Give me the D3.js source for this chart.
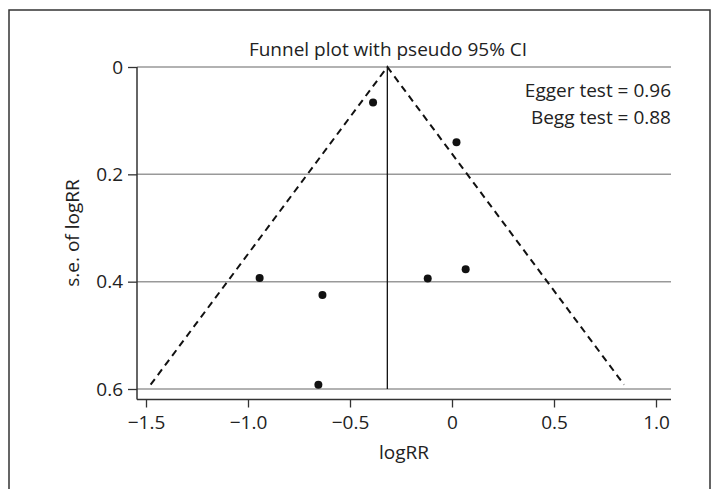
<!DOCTYPE html>
<html>
<head>
<meta charset="utf-8">
<script src="https://cdn.jsdelivr.net/npm/d3@7"></script>
<style>
  body { margin: 0; background: #fff; }
  text { font-family: "Open Sans", sans-serif; fill: #222; }
</style>
</head>
<body>
<script>
// study estimates (logRR) and their standard errors
var logRR = [-0.387, 0.022, -0.943, -0.635, -0.655, -0.119, 0.067];
var seLogRR = [0.066, 0.140, 0.393, 0.425, 0.592, 0.394, 0.377];
// pooled estimate
var pooled = -0.317;
// tick labels
var xTicks = [-1.5, -1.0, -0.5, 0, 0.5, 1.0];
var yTicks = [0, 0.2, 0.4, 0.6];
var statLines = ["Egger test = 0.96", "Begg test = 0.88"];

var W = 718, H = 489;

var svg = d3.select("body").append("svg")
  .attr("width", W)
  .attr("height", H);

// outer frame
svg.append("path")
   .attr("d", "M9,489V10H710V489")
   .attr("fill", "none")
   .attr("stroke", "#333")
   .attr("stroke-width", 1.5);

var x = d3.scaleLinear().domain([-1.5, 1.0]).range([146, 656]);
var y = d3.scaleLinear().domain([0, 0.6]).range([67, 389]);

var left = 137, right = 671, axisY = 399.5;

// horizontal grid lines
svg.selectAll("line.grid")
   .data(yTicks)
   .enter().append("line")
     .attr("class", "grid")
     .attr("x1", left)
     .attr("x2", right)
     .attr("y1", d => y(d))
     .attr("y2", d => y(d))
     .attr("stroke", "#999")
     .attr("stroke-width", 1.5);

// axis lines
svg.append("line")
   .attr("x1", left).attr("x2", left)
   .attr("y1", y(0)).attr("y2", axisY)
   .attr("stroke", "#333").attr("stroke-width", 1.5);
svg.append("line")
   .attr("x1", left).attr("x2", right)
   .attr("y1", axisY).attr("y2", axisY)
   .attr("stroke", "#333").attr("stroke-width", 1.5);

var fmt = d => d === 0 ? "0" : (d < 0 ? "\u2212" : "") + Math.abs(d).toFixed(1);

var xAxis = d3.axisBottom(x).tickValues(xTicks).tickSize(8).tickPadding(8).tickFormat(fmt);
var gx = svg.append("g")
   .attr("transform", "translate(0," + axisY + ")")
   .call(xAxis);
gx.select(".domain").remove();

var yAxis = d3.axisLeft(y).tickValues(yTicks).tickSize(9).tickPadding(5).tickFormat(fmt);
var gy = svg.append("g")
   .attr("transform", "translate(" + left + ",0)")
   .call(yAxis);
gy.select(".domain").remove();

svg.selectAll(".tick line").attr("stroke", "#333").attr("stroke-width", 1.3);
svg.selectAll(".tick text")
   .attr("font-family", "Open Sans, sans-serif")
   .attr("font-size", 19)
   .attr("fill", "#222");

// pooled estimate line
svg.append("line")
   .attr("x1", x(pooled)).attr("x2", x(pooled))
   .attr("y1", y(0)).attr("y2", y(0.6))
   .attr("stroke", "#111").attr("stroke-width", 1.3);

// pseudo 95% CI limits
var maxSe = d3.max(seLogRR);
var ci = [[pooled - 1.96 * maxSe, maxSe], [pooled, 0], [pooled + 1.96 * maxSe, maxSe]];
svg.append("path")
   .attr("d", d3.line().x(d => x(d[0])).y(d => y(d[1]))(ci))
   .attr("fill", "none")
   .attr("stroke", "#111")
   .attr("stroke-width", 2)
   .attr("stroke-dasharray", "7,5");

// studies
svg.selectAll("circle")
   .data(logRR)
   .enter().append("circle")
     .attr("cx", d => x(d))
     .attr("cy", (d, i) => y(seLogRR[i]))
     .attr("r", 4)
     .attr("fill", "#111");

// title
svg.append("text")
   .attr("x", 388)
   .attr("y", 56)
   .attr("text-anchor", "middle")
   .attr("font-size", 19)
   .text("Funnel plot with pseudo 95% CI");

// test results
svg.append("text").selectAll("tspan")
   .data(statLines)
   .enter().append("tspan")
     .attr("x", right)
     .attr("y", (d, i) => 97 + i * 26.5)
     .attr("text-anchor", "end")
     .attr("font-size", 19)
     .text(d => d);

// axis titles
svg.append("text")
   .attr("x", (left + right) / 2)
   .attr("y", 459)
   .attr("text-anchor", "middle")
   .attr("font-size", 19)
   .text("logRR");

svg.append("text")
   .attr("transform", "translate(79,233) rotate(-90)")
   .attr("text-anchor", "middle")
   .attr("font-size", 19)
   .text("s.e. of logRR");
</script>
</body>
</html>
